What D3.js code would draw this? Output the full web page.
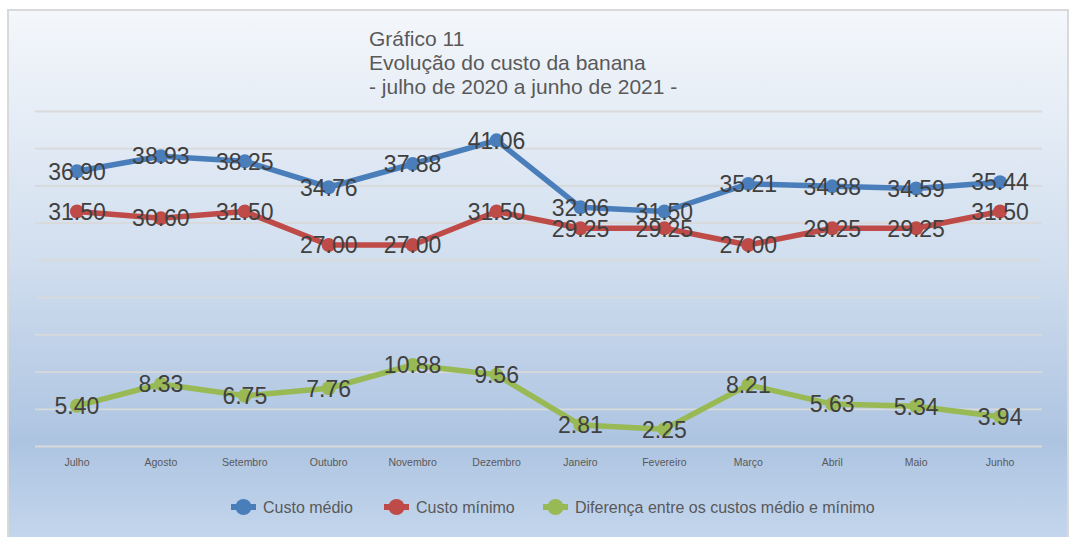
<!DOCTYPE html>
<html>
<head>
<meta charset="utf-8">
<script src="https://cdn.jsdelivr.net/npm/d3@7"></script>
<style>
    body { margin: 0; background: #fff; }
    svg { display: block; font-family: "Liberation Sans", Arial, sans-serif; }
</style>
</head>
<body>
<div id="chart"></div>
<script>
const months = ["Julho", "Agosto", "Setembro", "Outubro", "Novembro", "Dezembro",
    "Janeiro", "Fevereiro", "Março", "Abril", "Maio", "Junho"];
const custoMedio = [36.90, 38.93, 38.25, 34.76, 37.88, 41.06, 32.06, 31.50, 35.21, 34.88, 34.59, 35.44];
const custoMinimo = [31.50, 30.60, 31.50, 27.00, 27.00, 31.50, 29.25, 29.25, 27.00, 29.25, 29.25, 31.50];
const diferenca = [5.40, 8.33, 6.75, 7.76, 10.88, 9.56, 2.81, 2.25, 8.21, 5.63, 5.34, 3.94];
const seriesNames = ["Custo médio", "Custo mínimo", "Diferença entre os custos médio e mínimo"];
const yTicks = [0, 5, 10, 15, 20, 25, 30, 35, 40, 45];
const titleLines = ["Gráfico 11", "Evolução do custo da banana", "- julho de 2020 a junho de 2021 -"];

const W = 1071, H = 537;
const colors = ["#4a7ebb", "#be4b48", "#98b954"];
const series = [custoMedio, custoMinimo, diferenca];

const svg = d3.select("#chart").append("svg")
    .attr("width", W)
    .attr("height", H);

const grad = svg.append("defs").append("linearGradient")
    .attr("id", "bg")
    .attr("x1", 0).attr("y1", 0).attr("x2", 0).attr("y2", 1);
[[0, "#f4f7fb"], [0.45, "#d2dfef"], [0.8, "#adc4e1"], [1, "#c6d8ee"]].forEach(([o, c]) => {
    grad.append("stop").attr("offset", o).attr("stop-color", c);
});

svg.append("rect")
    .attr("x", 8).attr("y", 10)
    .attr("width", 1060).attr("height", 540)
    .attr("fill", "url(#bg)")
    .attr("stroke", "#d9d9d9")
    .attr("stroke-width", 2);

const x = d3.scaleBand().domain(months).range([35, 1042]);
const y = d3.scaleLinear().domain([0, 45]).range([446, 111]);

// gridlines
svg.append("g")
    .attr("transform", "translate(35,0)")
    .call(d3.axisLeft(y).tickValues(yTicks).tickSize(-1007).tickFormat(""))
    .call(g => g.select(".domain").remove())
    .call(g => g.selectAll(".tick line").attr("stroke", "#d9d9d9").attr("stroke-width", 1.8));

// category axis
svg.append("g")
    .attr("transform", "translate(0,459)")
    .call(d3.axisBottom(x).tickSize(0).tickPadding(0))
    .call(g => g.select(".domain").remove())
    .call(g => g.selectAll("text")
        .attr("fill", "#595959")
        .attr("font-size", "10.5px")
        .attr("font-family", "Liberation Sans, Arial, sans-serif"));

// title
svg.append("text")
    .attr("x", 369)
    .attr("y", 46)
    .attr("fill", "#595959")
    .attr("font-size", "21px")
    .selectAll("tspan")
    .data(titleLines)
    .enter()
    .append("tspan")
    .attr("x", 369)
    .attr("dy", (d, i) => i === 0 ? 0 : 24)
    .text(d => d);

const line = d3.line()
    .x((d, i) => x(months[i]) + x.bandwidth() / 2)
    .y(d => y(d));

series.forEach((vals, s) => {
    const g = svg.append("g");
    g.append("path")
        .datum(vals)
        .attr("d", line)
        .attr("fill", "none")
        .attr("stroke", colors[s])
        .attr("stroke-width", 5.5)
        .attr("stroke-linejoin", "round");
    g.selectAll("circle")
        .data(vals)
        .enter()
        .append("circle")
        .attr("cx", (d, i) => x(months[i]) + x.bandwidth() / 2)
        .attr("cy", d => y(d))
        .attr("r", 7)
        .attr("fill", colors[s]);
});

// data labels, centred on the points like the original
series.forEach((vals, s) => {
    svg.append("g").selectAll("text")
        .data(vals)
        .enter()
        .append("text")
        .attr("x", (d, i) => x(months[i]) + x.bandwidth() / 2)
        .attr("y", d => y(d))
        .attr("dy", "0.36em")
        .attr("text-anchor", "middle")
        .attr("fill", "#404040")
        .attr("font-size", "23px")
        .text(d => d.toFixed(2));
});

// legend
const legendX = [231, 384, 543];
const legend = svg.append("g").selectAll("g")
    .data(seriesNames)
    .enter()
    .append("g")
    .attr("transform", (d, i) => `translate(${legendX[i]},507)`);
legend.append("line")
    .attr("x1", 0).attr("x2", 25)
    .attr("stroke", (d, i) => colors[i])
    .attr("stroke-width", 6);
legend.append("circle")
    .attr("cx", 12.5)
    .attr("r", 8)
    .attr("fill", (d, i) => colors[i]);
legend.append("text")
    .attr("x", 32)
    .attr("dy", "0.35em")
    .attr("fill", "#595959")
    .attr("font-size", "16px")
    .text(d => d);
</script>
</body>
</html>
